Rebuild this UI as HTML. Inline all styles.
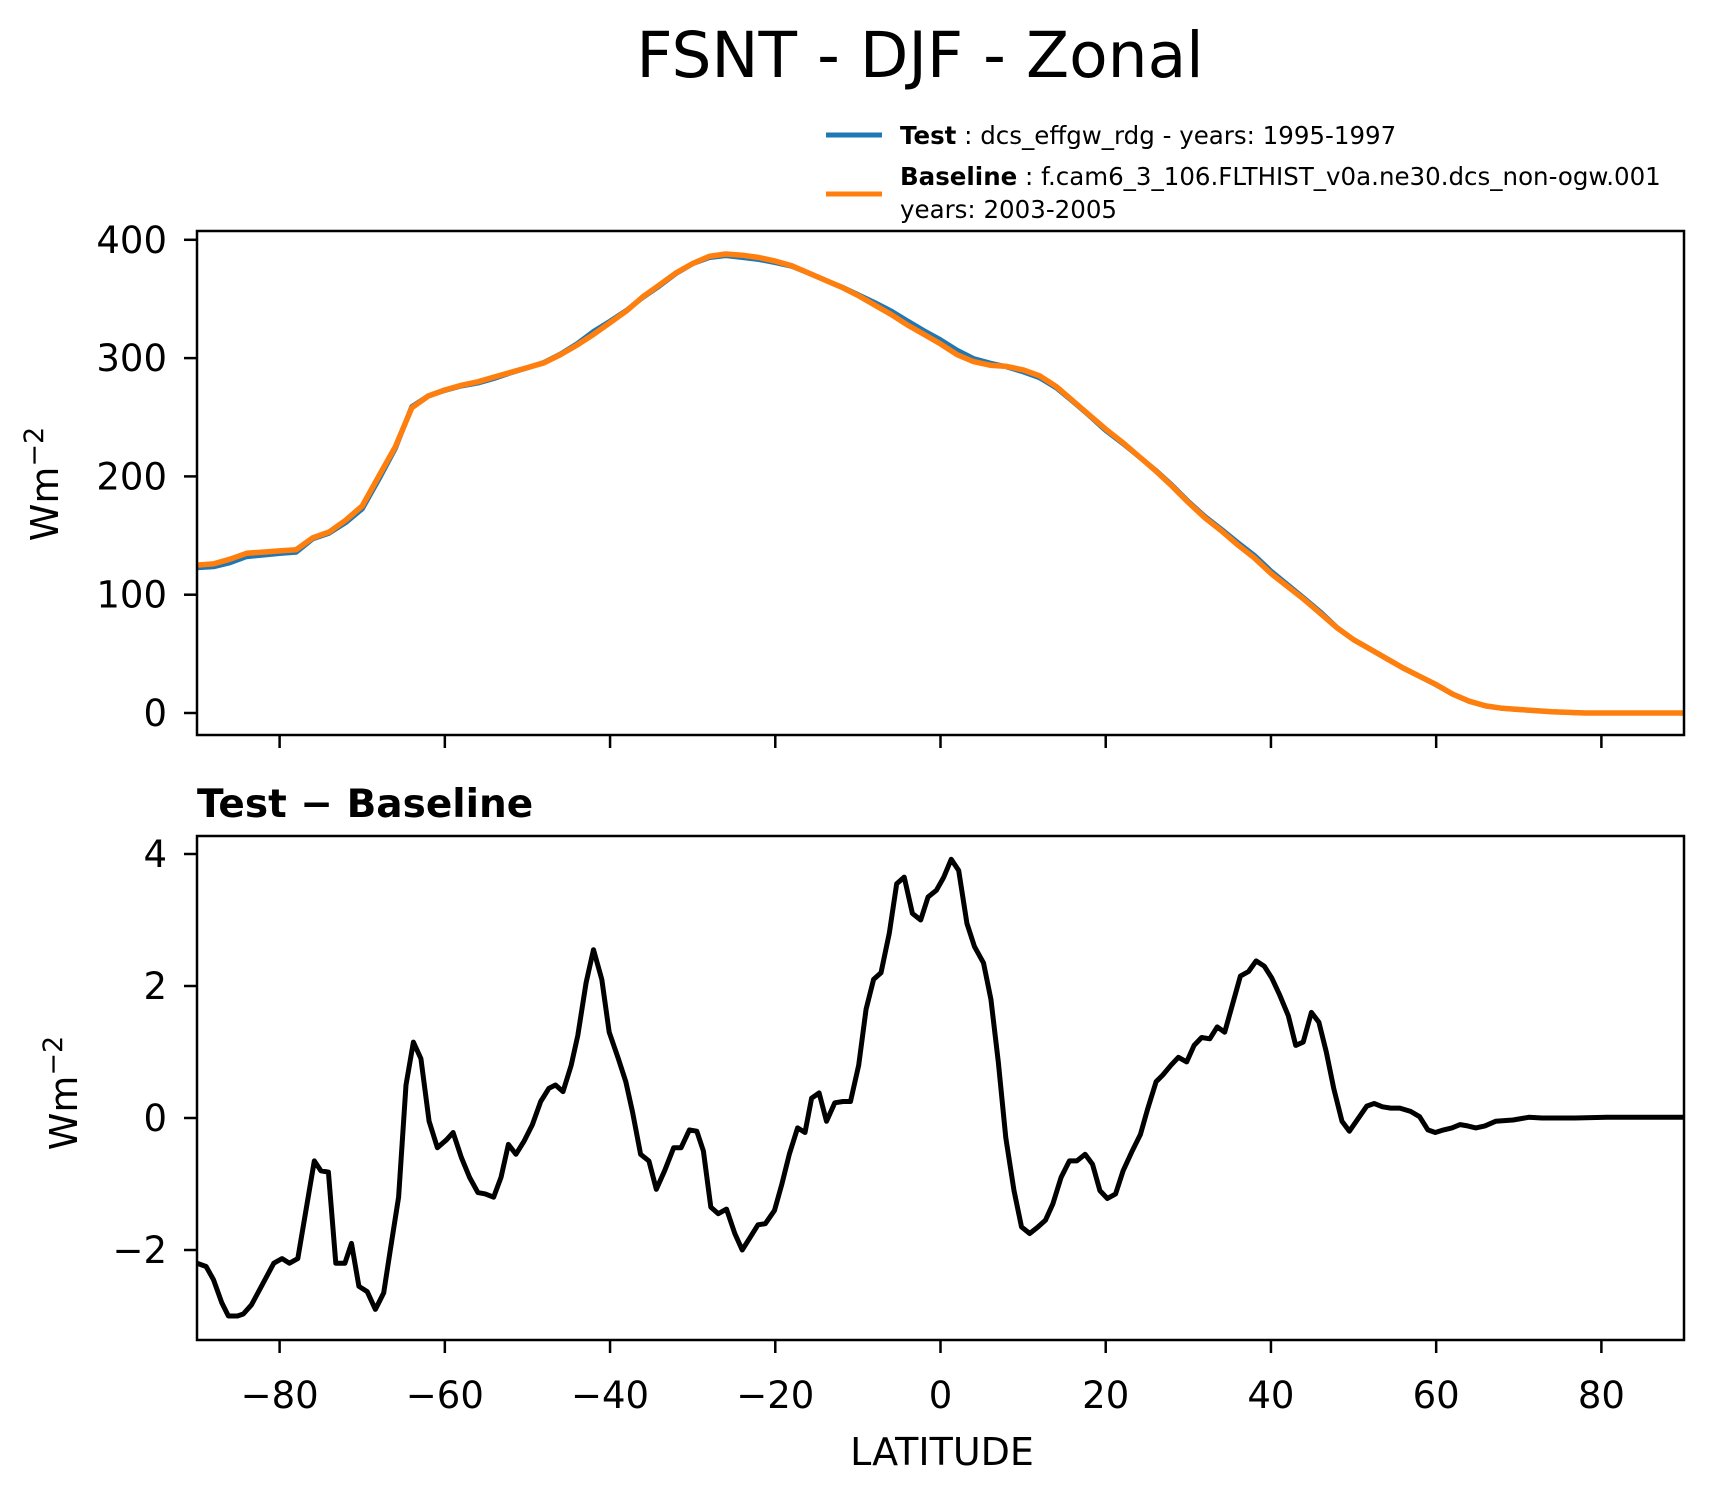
<!DOCTYPE html>
<html><head><meta charset="utf-8"><style>
html,body{margin:0;padding:0;background:#fff;}
svg{display:block;font-family:"DejaVu Sans","Liberation Sans",sans-serif;}
</style></head><body>
<svg id="chart" width="1714" height="1496" viewBox="0 0 1714 1496" xmlns="http://www.w3.org/2000/svg">
<rect width="1714" height="1496" fill="#fff"/>
<text x="920" y="77" font-size="63" text-anchor="middle">FSNT - DJF - Zonal</text>
<g>
<line x1="826" y1="135" x2="882" y2="135" stroke="#1f77b4" stroke-width="5"/>
<text x="900" y="144" font-size="24.5"><tspan font-weight="bold">Test</tspan> : dcs_effgw_rdg - years: 1995-1997</text>
<line x1="826" y1="194" x2="882" y2="194" stroke="#ff7f0e" stroke-width="5"/>
<text x="900" y="185" font-size="24.5"><tspan font-weight="bold">Baseline</tspan> : f.cam6_3_106.FLTHIST_v0a.ne30.dcs_non-ogw.001</text>
<text x="900" y="218" font-size="24.5">years: 2003-2005</text>
</g>
<g id="top"></g>
<g id="bot"></g>
<text x="197" y="817" font-size="39" font-weight="bold">Test − Baseline</text>
<text transform="translate(58,484) rotate(-90)" font-size="38" text-anchor="middle">Wm<tspan dy="-15" font-size="27">−2</tspan></text>
<text transform="translate(77,1093) rotate(-90)" font-size="38" text-anchor="middle">Wm<tspan dy="-15" font-size="27">−2</tspan></text>
<text x="942" y="1465" font-size="38" text-anchor="middle">LATITUDE</text>
</svg>
<script>
const baseLat = [-90,-88,-86,-84,-82,-80,-78,-76,-74,-72,-70,-68,-66,-64,-62,-60,-58,-56,-54,-52,-50,-48,-46,-44,-42,-40,-38,-36,-34,-32,-30,-28,-26,-24,-22,-20,-18,-16,-14,-12,-10,-8,-6,-4,-2,0,2,4,6,8,10,12,14,16,18,20,22,24,26,28,30,32,34,36,38,40,42,44,46,48,50,52,54,56,58,60,62,64,66,68,70,72,74,76,78,80,82,84,86,88,90];
const baseVals = [125,126,130,135,136,137,138,148,153,163,175,200,225,258,268,273,277,280,284,288,292,296,303,311,320,330,340,352,362,372,380,386,388,387,385,382,378,372,366,360,353,345,337,328,320,312,303,297,294,293,290,285,276,264,252,240,229,217,205,192,178,165,154,142,131,118,107,96,84,72,62,54,46,38,31,24,16,10,6,4,3,2,1,0.5,0,0,0,0,0,0,0];
const diffLat = [-90,-88.9,-88,-87,-86.2,-85.1,-84.4,-83.4,-80.7,-79.7,-78.8,-77.8,-75.8,-75,-74.1,-73.2,-72.1,-71.3,-70.4,-69.4,-68.4,-67.4,-66.6,-65.6,-64.7,-63.8,-62.9,-61.9,-60.9,-59.8,-59,-58,-57,-56,-55.1,-54.1,-53.2,-52.3,-51.4,-50.4,-49.4,-48.4,-47.4,-46.6,-45.7,-44.7,-43.9,-42.9,-42,-41,-40.1,-39,-38.1,-37.3,-36.3,-35.3,-34.4,-33.4,-32.3,-31.4,-30.4,-29.5,-28.7,-27.8,-26.9,-25.9,-24.9,-24,-23,-22.1,-21.2,-20.1,-19.2,-18.3,-17.3,-16.4,-15.6,-14.7,-13.8,-12.8,-11.8,-10.9,-9.9,-9,-8.1,-7.2,-6.2,-5.3,-4.4,-3.4,-2.4,-1.5,-0.5,0.4,1.3,2.2,3.2,4.1,5.2,6.1,7,7.9,8.9,9.8,10.8,11.8,12.7,13.6,14.6,15.6,16.5,17.5,18.4,19.3,20.2,21.2,22.1,23.2,24.2,25.1,26.1,26.9,27.9,28.8,29.8,30.7,31.6,32.6,33.5,34.4,35.3,36.3,37.3,38.2,39.2,40.1,41,42.1,43,43.9,44.9,45.8,46.7,47.6,48.6,49.5,51.6,52.5,53.5,54.5,55.6,56.9,58,59,59.9,60.9,61.9,62.9,63.8,64.8,65.9,67.2,69.3,71.2,72.8,76.8,80.7,90];
const diffVals = [-2.2,-2.25,-2.45,-2.8,-3.0,-3.0,-2.97,-2.83,-2.2,-2.13,-2.2,-2.13,-0.65,-0.8,-0.82,-2.2,-2.2,-1.9,-2.55,-2.63,-2.9,-2.65,-2.0,-1.2,0.5,1.15,0.9,-0.05,-0.45,-0.33,-0.22,-0.6,-0.9,-1.13,-1.15,-1.2,-0.9,-0.4,-0.55,-0.35,-0.1,0.25,0.45,0.5,0.4,0.8,1.25,2.05,2.55,2.1,1.3,0.9,0.55,0.1,-0.55,-0.65,-1.08,-0.8,-0.45,-0.45,-0.18,-0.2,-0.5,-1.35,-1.45,-1.38,-1.75,-2.0,-1.8,-1.62,-1.6,-1.4,-1.0,-0.55,-0.15,-0.22,0.3,0.38,-0.05,0.23,0.25,0.25,0.8,1.65,2.1,2.2,2.8,3.55,3.65,3.1,3.0,3.35,3.45,3.65,3.92,3.75,2.95,2.6,2.35,1.8,0.85,-0.3,-1.1,-1.65,-1.75,-1.65,-1.55,-1.3,-0.9,-0.65,-0.65,-0.55,-0.7,-1.1,-1.22,-1.15,-0.8,-0.5,-0.25,0.15,0.55,0.65,0.8,0.92,0.85,1.1,1.22,1.2,1.38,1.3,1.7,2.15,2.22,2.38,2.3,2.12,1.88,1.55,1.1,1.15,1.6,1.45,1.0,0.45,-0.05,-0.2,0.18,0.22,0.17,0.15,0.15,0.1,0.02,-0.18,-0.22,-0.18,-0.15,-0.1,-0.12,-0.15,-0.12,-0.05,-0.03,0.01,0,0,0.01,0.01];
const xTicks = [-80,-60,-40,-20,0,20,40,60,80];
const xTickLabels = ["−80","−60","−40","−20","0","20","40","60","80"];
const topTicks = [0,100,200,300,400];
const topTickLabels = ["0","100","200","300","400"];
const botTicks = [-2,0,2,4];
const botTickLabels = ["−2","0","2","4"];

const NS="http://www.w3.org/2000/svg";
const X0=197,X1=1684;
const xs=v=>X0+(v+90)/180*(X1-X0);
const yTop=v=>713-v*1.183;
const yBot=v=>1118-v*66;
function mk(tag,attrs,parent){const e=document.createElementNS(NS,tag);for(const k in attrs)e.setAttribute(k,attrs[k]);parent.appendChild(e);return e;}
function interp(lat,xa,ya){for(let i=0;i<xa.length-1;i++){if(lat>=xa[i]&&lat<=xa[i+1]){const t=(lat-xa[i])/(xa[i+1]-xa[i]);return ya[i]+t*(ya[i+1]-ya[i]);}}return ya[ya.length-1];}
function pathD(xa,ya,fy){return xa.map((x,i)=>(i?'L':'M')+xs(x).toFixed(1)+','+fy(ya[i]).toFixed(1)).join('');}
function panel(g,top,bot,fy,ticks,labels,showX){
  const cp=mk('clipPath',{id:g.id+'clip'},g);
  mk('rect',{x:X0,y:top,width:X1-X0,height:bot-top},cp);
  ticks.forEach((t,i)=>{
    const tk=mk('line',{x1:X0-13,x2:X0,y1:fy(t),y2:fy(t),stroke:'#000','stroke-width':2.5},g);
    
    
    const tl=mk('text',{x:X0-30,y:fy(t)+13,'font-size':37,'text-anchor':'end'},g);
    tl.textContent=labels[i];
    
    
  });
  xTicks.forEach((t,i)=>{
    const tk=mk('line',{x1:xs(t),x2:xs(t),y1:bot,y2:bot+13,stroke:'#000','stroke-width':2.5},g);
    
    
    if(showX){
      const tl=mk('text',{x:xs(t),y:1408,'font-size':37,'text-anchor':'middle'},g);
      tl.textContent=xTickLabels[i];
      
      
    }
  });
  return cp;
}
const gt=document.getElementById('top');


panel(gt,231,735,yTop,topTicks,topTickLabels,false);
const testVals=baseLat.map((l,i)=>baseVals[i]+interp(l,diffLat,diffVals));
const lt=mk('path',{d:pathD(baseLat,testVals,yTop),fill:'none',stroke:'#1f77b4','stroke-width':5,'stroke-linejoin':'round','clip-path':'url(#topclip)'},gt);


const lb=mk('path',{d:pathD(baseLat,baseVals,yTop),fill:'none',stroke:'#ff7f0e','stroke-width':5.5,'stroke-linejoin':'round','clip-path':'url(#topclip)'},gt);


const ft=mk('rect',{x:X0,y:231,width:X1-X0,height:504,fill:'none',stroke:'#000','stroke-width':2.5},gt);



const gb=document.getElementById('bot');


panel(gb,836,1340,yBot,botTicks,botTickLabels,true);
const ld=mk('path',{d:pathD(diffLat,diffVals,yBot),fill:'none',stroke:'#000','stroke-width':5,'stroke-linejoin':'round','clip-path':'url(#botclip)'},gb);


const fb=mk('rect',{x:X0,y:836,width:X1-X0,height:504,fill:'none',stroke:'#000','stroke-width':2.5},gb);


</script>
</body></html>
